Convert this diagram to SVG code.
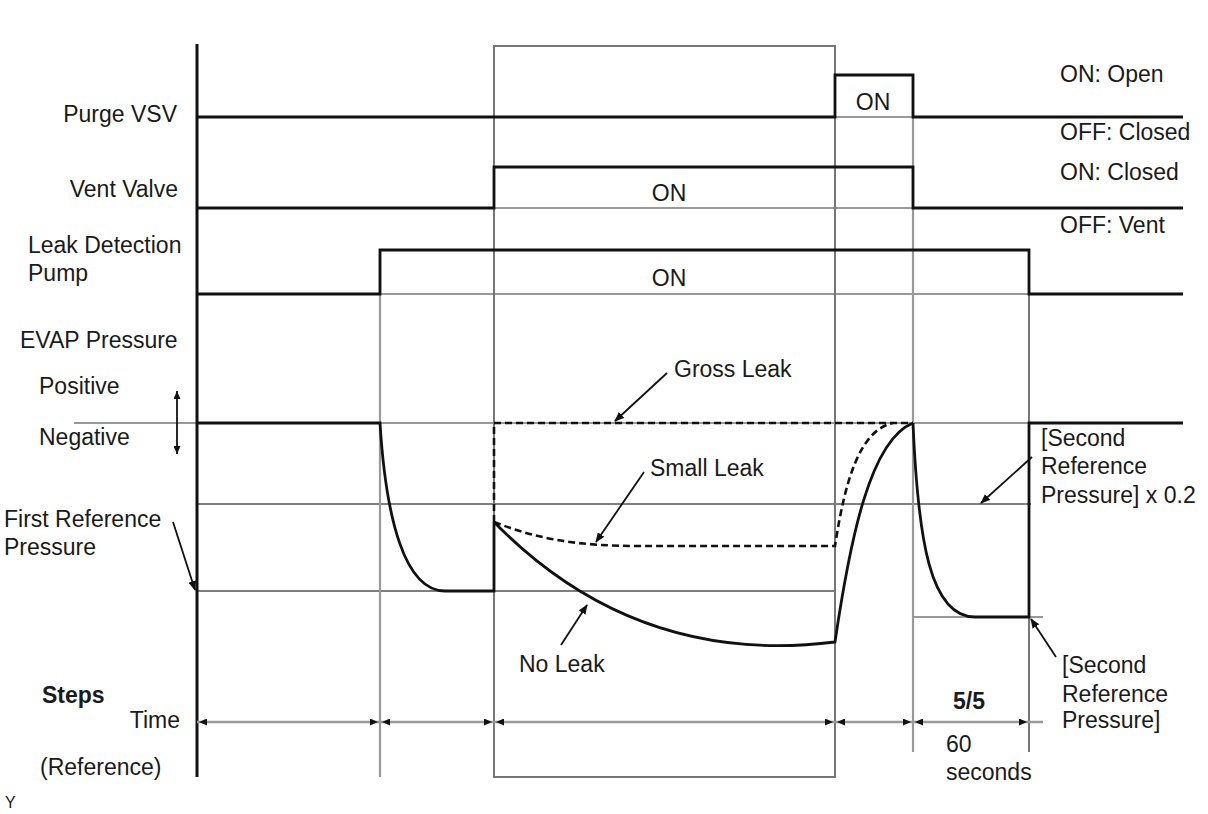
<svg xmlns="http://www.w3.org/2000/svg" width="1208" height="814" viewBox="0 0 1208 814">
<style>
text{font-family:"Liberation Sans",Arial,sans-serif;font-size:23px;fill:#1a1a1a}
.b{font-weight:bold}
.sig{fill:none;stroke:#111;stroke-width:2.8}
.grid{fill:none;stroke:#999;stroke-width:2.2}
.thin{fill:none;stroke:#555;stroke-width:1.6}
.dash{fill:none;stroke:#111;stroke-width:2.6;stroke-dasharray:7,4}
.lead{fill:none;stroke:#111;stroke-width:1.8}
.tl{fill:none;stroke:#999;stroke-width:2.5}
</style>
<defs>
<marker id="ah" markerWidth="10" markerHeight="8" refX="9" refY="4" orient="auto" markerUnits="userSpaceOnUse">
<path d="M0,0 L10,4 L0,8 Z" fill="#111"/>
</marker>
<marker id="as" markerWidth="8" markerHeight="7" refX="8" refY="3.5" orient="auto-start-reverse" markerUnits="userSpaceOnUse">
<path d="M0,0 L8,3.5 L0,7 Z" fill="#111"/>
</marker>
</defs>

<g id="grid">
<line class="grid" x1="197" y1="117" x2="1183" y2="117"/>
<line class="grid" x1="494" y1="208" x2="913" y2="208"/>
<line class="grid" x1="380" y1="294" x2="1029" y2="294"/>
<line class="grid" x1="74" y1="423" x2="1183" y2="423"/>
<line class="thin" x1="197" y1="504" x2="1031" y2="504"/>
<line class="thin" x1="197" y1="591" x2="835" y2="591"/>
<line class="grid" x1="913" y1="617" x2="1043" y2="617"/>
<line class="grid" x1="380" y1="250" x2="380" y2="777"/>
<rect x="494" y="46" width="341" height="731" fill="none" stroke="#777" stroke-width="2"/>
<line class="grid" x1="913" y1="75" x2="913" y2="752"/>
<line class="thin" x1="1029" y1="250" x2="1029" y2="752"/>
<line x1="197" y1="44" x2="197" y2="777" stroke="#111" stroke-width="3"/>
</g>

<g id="purge-vsv">
<text x="177" y="122" text-anchor="end">Purge VSV</text>
<path class="sig" d="M197,117 H835 V75 H913 V117 H1183"/>
<text x="873" y="110" text-anchor="middle">ON</text>
<text x="1060" y="82">ON: Open</text>
<text x="1060" y="140">OFF: Closed</text>
</g>

<g id="vent-valve">
<text x="178" y="197" text-anchor="end">Vent Valve</text>
<path class="sig" d="M197,208 H494 V167 H913 V208 H1183"/>
<text x="669" y="201" text-anchor="middle">ON</text>
<text x="1060" y="180">ON: Closed</text>
<text x="1060" y="233">OFF: Vent</text>
</g>

<g id="leak-pump">
<text x="28" y="253">Leak Detection</text>
<text x="28" y="281">Pump</text>
<path class="sig" d="M197,294 H380 V250 H1029 V294 H1183"/>
<text x="669" y="286" text-anchor="middle">ON</text>
</g>

<g id="evap-pressure">
<text x="20" y="348">EVAP Pressure</text>
<text x="39" y="394">Positive</text>
<text x="39" y="445">Negative</text>
<line class="lead" x1="177" y1="391" x2="177" y2="454" marker-start="url(#as)" marker-end="url(#as)"/>
<path class="sig" d="M197,423 H380 C386,520 405,591 445,591 H494 V522"/>
<path class="dash" d="M494,522 V423 H913"/>
<path class="sig" d="M494,522 C580,610 690,660 835,642 C850,540 870,440 913,423"/>
<path class="dash" d="M494,522 C540,540 580,546 640,546 H835 C845,480 860,430 893,423"/>
<path class="sig" d="M913,423 C918,540 930,617 975,617 H1029 V423 H1183"/>
</g>

<g id="labels">
<text x="4" y="527">First Reference</text>
<text x="4" y="555">Pressure</text>
<line class="lead" x1="173" y1="522" x2="195" y2="590" marker-end="url(#ah)"/>
<text x="674" y="377">Gross Leak</text>
<line class="lead" x1="667" y1="373" x2="615" y2="421" marker-end="url(#ah)"/>
<text x="650" y="476">Small Leak</text>
<line class="lead" x1="644" y1="472" x2="596" y2="542" marker-end="url(#ah)"/>
<text x="519" y="672">No Leak</text>
<line class="lead" x1="561" y1="645" x2="587" y2="605" marker-end="url(#ah)"/>
<text x="1041" y="446">[Second</text>
<text x="1041" y="474">Reference</text>
<text x="1041" y="503">Pressure] x 0.2</text>
<line class="lead" x1="1032" y1="457" x2="981" y2="503" marker-end="url(#ah)"/>
<text x="1062" y="673">[Second</text>
<text x="1062" y="702">Reference</text>
<text x="1062" y="728">Pressure]</text>
<line class="lead" x1="1056" y1="657" x2="1031" y2="619" marker-end="url(#ah)"/>
</g>

<g id="steps">
<text class="b" x="42" y="703">Steps</text>
<text x="180" y="728" text-anchor="end">Time</text>
<text x="40" y="775">(Reference)</text>
<text x="5" y="808" style="font-size:16px">Y</text>
<text class="b" x="969" y="709" text-anchor="middle">5/5</text>
<text x="946" y="752">60</text>
<text x="946" y="780">seconds</text>
</g>

<g id="connectors">
<line class="tl" x1="197" y1="722" x2="1043" y2="722"/>
<line x1="199" y1="722" x2="378" y2="722" stroke="none" marker-start="url(#as)" marker-end="url(#as)"/>
<line x1="382" y1="722" x2="492" y2="722" stroke="none" marker-start="url(#as)" marker-end="url(#as)"/>
<line x1="496" y1="722" x2="833" y2="722" stroke="none" marker-start="url(#as)" marker-end="url(#as)"/>
<line x1="837" y1="722" x2="911" y2="722" stroke="none" marker-start="url(#as)" marker-end="url(#as)"/>
<line x1="915" y1="722" x2="1027" y2="722" stroke="none" marker-start="url(#as)" marker-end="url(#as)"/>
</g>
</svg>
